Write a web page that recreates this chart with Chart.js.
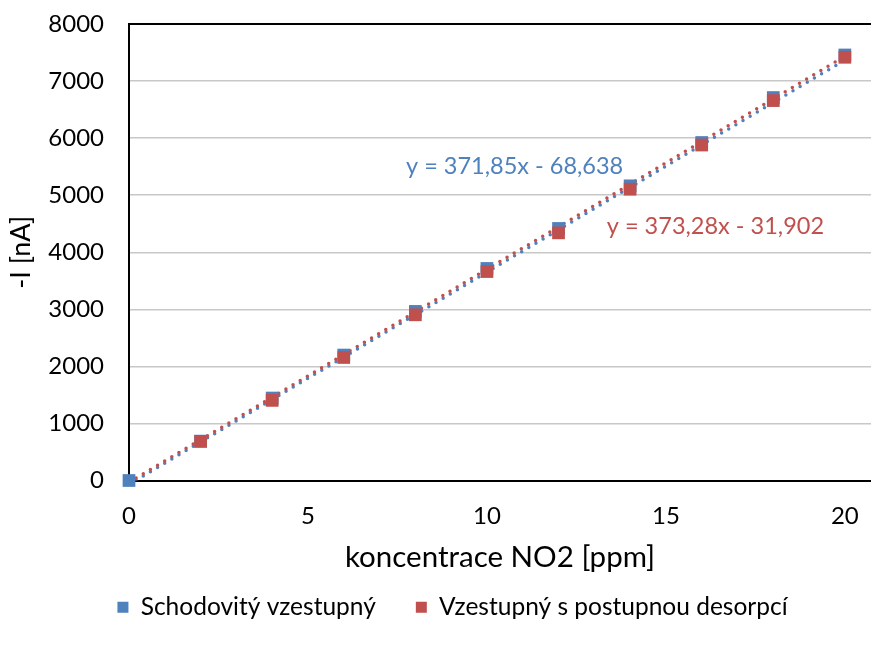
<!DOCTYPE html>
<html>
<head>
<meta charset="utf-8">
<script src="https://cdn.jsdelivr.net/npm/chart.js@4.4.1/dist/chart.umd.min.js"></script>
<style>
  html, body { margin: 0; padding: 0; background: #fff; }
  #wrap { width: 871px; height: 647px; position: relative; }
</style>
</head>
<body>
<div id="wrap"><canvas id="myChart"></canvas></div>
<script>
// measured current vs NO2 concentration
const concStep = [0, 2, 4, 6, 8, 10, 12, 14, 16, 18, 20];
const currentStep = [0, 690, 1445, 2198, 2963, 3716, 4417, 5164, 5923, 6711, 7457];
const concDesorp = [2, 4, 6, 8, 10, 12, 14, 16, 18, 20];
const currentDesorp = [686, 1404, 2156, 2904, 3662, 4340, 5105, 5879, 6658, 7417];

// linear trendlines: [slope, intercept]
const fitStep = [371.85, -68.638];
const fitDesorp = [373.28, -31.902];
const fitRange = [0, 20];

const xTicks = [0, 5, 10, 15, 20];
const yTicks = [0, 1000, 2000, 3000, 4000, 5000, 6000, 7000, 8000];
const seriesNames = ["Schodovitý vzestupný", "Vzestupný s postupnou desorpcí"];
const eqStep = "y = 371,85x - 68,638";
const eqDesorp = "y = 373,28x - 31,902";

const BLUE = "#4f81bd";
const RED = "#c0504d";
const FONT = "Lato";

const toPoints = (xs, ys) => xs.map((x, i) => ({ x: x, y: ys[i] }));
const trend = (fit) => fitRange.map((x) => ({ x: x, y: fit[0] * x + fit[1] }));

// equation text next to the trendlines
const trendLabels = {
  id: "trendLabels",
  afterDatasetsDraw(chart) {
    const { ctx, scales } = chart;
    ctx.save();
    ctx.font = "23.5px " + FONT;
    ctx.textBaseline = "middle";
    ctx.textAlign = "left";
    ctx.fillStyle = BLUE;
    ctx.fillText(eqStep, scales.x.getPixelForValue(7.74), scales.y.getPixelForValue(5508));
    ctx.fillStyle = RED;
    ctx.fillText(eqDesorp, scales.x.getPixelForValue(13.35), scales.y.getPixelForValue(4448));
    ctx.restore();
  },
};

// keep the tick labels from pushing the plot area inwards
const noScalePadding = (scale) => {
  scale.paddingTop = 0;
  scale.paddingBottom = 0;
  scale.paddingLeft = 0;
  scale.paddingRight = 0;
};

const ctx = document.getElementById("myChart");
const myChart = new Chart(ctx, {
  type: "scatter",
  data: {
    datasets: [
      {
        label: seriesNames[0],
        data: toPoints(concStep, currentStep),
        backgroundColor: BLUE,
        borderColor: BLUE,
        borderWidth: 0,
        pointStyle: "rect",
        pointRadius: 9,
        pointHoverRadius: 9,
        clip: false,
        order: 2,
      },
      {
        label: seriesNames[1],
        data: toPoints(concDesorp, currentDesorp),
        backgroundColor: RED,
        borderColor: RED,
        borderWidth: 0,
        pointStyle: "rect",
        pointRadius: 9,
        pointHoverRadius: 9,
        clip: false,
        order: 1,
      },
      {
        type: "line",
        label: "trend1",
        data: trend(fitStep),
        borderColor: BLUE,
        borderWidth: 3.5,
        borderDash: [0, 8.3],
        borderCapStyle: "round",
        pointRadius: 0,
        fill: false,
        order: 4,
      },
      {
        type: "line",
        label: "trend2",
        data: trend(fitDesorp),
        borderColor: RED,
        borderWidth: 3.5,
        borderDash: [0, 8.3],
        borderCapStyle: "round",
        pointRadius: 0,
        fill: false,
        order: 3,
      },
    ],
  },
  options: {
    responsive: true,
    maintainAspectRatio: false,
    animation: false,
    layout: { autoPadding: false, padding: { left: 34, top: 24, right: 0, bottom: 17.5 } },
    plugins: {
      tooltip: { enabled: false },
      legend: {
        position: "bottom",
        labels: {
          boxWidth: 11,
          boxHeight: 11,
          padding: 40,
          color: "#000",
          font: { family: FONT, size: 24.5 },
          filter: (item) => item.datasetIndex < 2,
          sort: (a, b) => a.datasetIndex - b.datasetIndex,
        },
      },
    },
    scales: {
      x: {
        type: "linear",
        min: 0,
        max: 20.73,
        afterBuildTicks: (scale) => {
          scale.ticks = xTicks.map((v) => ({ value: v }));
        },
        afterFit: (scale) => {
          scale.height = 74.5;
          noScalePadding(scale);
        },
        grid: { display: false, drawTicks: false },
        border: { display: true, color: "#000", width: 2 },
        ticks: { padding: 21, color: "#000", font: { family: FONT, size: 24 } },
        title: {
          display: true,
          text: "koncentrace NO2 [ppm]",
          color: "#000",
          font: { family: FONT, size: 29.5 },
          padding: { top: 0, bottom: -19.7 },
        },
      },
      y: {
        type: "linear",
        min: 0,
        max: 8000,
        afterBuildTicks: (scale) => {
          scale.ticks = yTicks.map((v) => ({ value: v }));
        },
        afterFit: (scale) => {
          scale.width = 95;
          noScalePadding(scale);
        },
        grid: {
          drawTicks: false,
          color: (c) => (c.tick && c.tick.value === 8000 ? "#000" : "#c8c8c8"),
          lineWidth: (c) => (c.tick && c.tick.value === 8000 ? 2 : 1.5),
        },
        border: { display: true, color: "#000", width: 2 },
        ticks: {
          padding: 25,
          color: "#000",
          font: { family: FONT, size: 24 },
          callback: (value) => String(value),
        },
        title: {
          display: true,
          text: "-I [nA]",
          color: "#000",
          font: { family: FONT, size: 27 },
          padding: { top: -29, bottom: 0 },
        },
      },
    },
  },
  plugins: [trendLabels],
});
</script>
</body>
</html>
